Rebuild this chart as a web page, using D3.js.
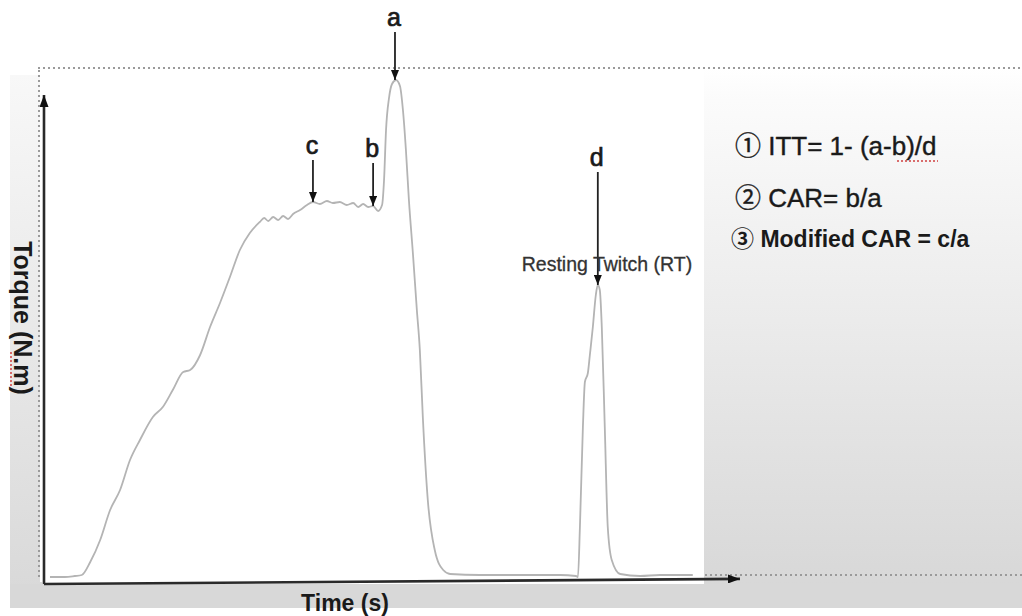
<!DOCTYPE html>
<html>
<head>
<meta charset="utf-8">
<script src="https://cdn.jsdelivr.net/npm/d3@7"></script>
<style>
  html, body { margin: 0; padding: 0; background: #fff; }
  svg { display: block; }
</style>
</head>
<body>
<svg id="chart" width="1022" height="616"></svg>
<script>
// ---- data ----
const time = [0.12,0.42,0.62,0.76,0.93,1.13,1.33,1.53,1.73,1.93,2.19,2.39,2.59,2.80,2.94,3.14,3.34,3.54,3.74,3.94,
  4.14,4.34,4.43,4.51,4.61,4.71,4.81,4.91,5.01,5.15,5.29,5.41,5.55,5.69,5.81,5.95,6.09,6.22,6.32,6.42,
  6.52,6.62,6.72,6.80,6.84,6.88,6.94,7.00,7.08,7.16,7.22,7.28,7.34,7.42,7.50,7.56,7.62,7.72,7.86,8.03,
  8.17,8.77,9.57,10.38,10.70,10.74,10.78,10.84,10.88,10.94,10.98,11.04,11.10,11.14,11.18,11.22,11.28,11.34,11.42,11.59,
  11.99,12.39,13.05];
const torque = [1.4,1.4,1.6,1.8,4.4,8.8,14.8,18.8,24.8,28.8,33.4,35.4,38.8,42.4,42.8,45.8,51.4,56.2,61.4,66.8,
  70.2,72.4,73.2,72.6,73.4,72.8,73.6,73.0,74.0,74.8,75.8,76.4,76.0,76.6,76.2,76.4,75.8,76.2,75.4,76.0,
  75.4,75.6,74.6,75.8,80.8,90.8,97.2,100.0,100.8,99.6,94.8,86.8,76.8,66.2,54.8,46.8,33.4,16.8,6.8,2.8,
  2.0,1.8,1.8,1.8,1.6,1.4,11.4,31.4,40.4,42.2,45.8,51.4,57.8,59.8,58.8,51.4,31.4,11.4,4.8,2.0,
  1.6,1.8,1.8];

const markLabels = ["a", "b", "c", "d"];
const markTime   = [7.06, 6.62, 5.41, 11.14];
const markTorque = [100.8, 75.6, 76.4, 59.8];
const markStart  = [110.4, 84.2, 84.8, 82.4];   // torque level where each arrow starts

const xAxisTitle = "Time (s)";
const yAxisTitle = "Torque (N.m)";
const twitchLabel = "Resting Twitch (RT)";
const formulas = ["\u2460 ITT= 1- (a-b)/d", "\u2461 CAR= b/a", "\u2462 Modified CAR = c/a"];

// ---- drawing ----
const svg = d3.select("#chart");
const W = 1022, H = 616;
const x = d3.scaleLinear().domain([0, 14]).range([44, 740]);
const y = d3.scaleLinear().domain([0, 100]).range([584, 84]);

const defs = svg.append("defs");
const gRight = defs.append("linearGradient").attr("id", "gRight").attr("x1", 0).attr("y1", 0).attr("x2", 0).attr("y2", 1);
gRight.append("stop").attr("offset", "0").attr("stop-color", "#ffffff");
gRight.append("stop").attr("offset", "0.06").attr("stop-color", "#fbfbfb");
gRight.append("stop").attr("offset", "1").attr("stop-color", "#d6d6d6");
const gLeft = defs.append("linearGradient").attr("id", "gLeft").attr("x1", 0).attr("y1", 0).attr("x2", 0).attr("y2", 1);
gLeft.append("stop").attr("offset", "0").attr("stop-color", "#f8f8f8");
gLeft.append("stop").attr("offset", "1").attr("stop-color", "#d8d8d8");

function arrowMarker(id, w, h) {
  defs.append("marker").attr("id", id)
    .attr("viewBox", `0 0 ${h} ${w}`).attr("refX", h).attr("refY", w / 2)
    .attr("markerWidth", h).attr("markerHeight", w).attr("markerUnits", "userSpaceOnUse")
    .attr("orient", "auto")
    .append("path").attr("d", `M0,0L${h},${w / 2}L0,${w}Z`).attr("fill", "#111");
}
arrowMarker("arrAxis", 9, 12);
arrowMarker("arrMark", 8, 10);

// background panels
svg.append("rect").attr("x", 0).attr("y", 0).attr("width", W).attr("height", H).attr("fill", "#fff");
svg.append("rect").attr("x", 10).attr("y", 75).attr("width", 32).attr("height", 533).attr("fill", "url(#gLeft)");
svg.append("rect").attr("x", 704).attr("y", 68).attr("width", W - 704).attr("height", 540).attr("fill", "url(#gRight)");
svg.append("rect").attr("x", 10).attr("y", 584).attr("width", W - 10).attr("height", 24).attr("fill", "#d8d8d8");
svg.append("rect").attr("x", 40).attr("y", 68).attr("width", 664).attr("height", 514).attr("fill", "#fff");

// dotted frame
const dotted = svg.append("g").attr("fill", "none").attr("stroke", "#9a9a9a")
  .attr("stroke-width", 2).attr("stroke-dasharray", "2 3");
dotted.append("line").attr("x1", 38).attr("y1", 68).attr("x2", W).attr("y2", 68);
dotted.append("line").attr("x1", 39).attr("y1", 70).attr("x2", 39).attr("y2", 578);
dotted.append("line").attr("x1", 705).attr("y1", 575).attr("x2", W).attr("y2", 575);

// torque trace
const pts = time.map((t, i) => [t, torque[i]]);
svg.append("path").datum(pts)
  .attr("d", d3.line().x(d => x(d[0])).y(d => y(d[1])).curve(d3.curveMonotoneX))
  .attr("fill", "none").attr("stroke", "#b4b4b4").attr("stroke-width", 1.8)
  .attr("stroke-linejoin", "round");

// axes (domain lines only, with arrowheads)
const xAxisG = svg.append("g").attr("transform", `rotate(-0.42, ${x(0)}, ${y(0)}) translate(0, ${y(0)})`)
  .call(d3.axisBottom(x).ticks(0).tickSizeOuter(0));
xAxisG.select(".domain").attr("stroke", "#2a2a2a").attr("stroke-width", 2.6).attr("marker-end", "url(#arrAxis)")
  .attr("d", `M${x(0)},0H${x(14)}`);
const yAxisScale = y.copy().domain([0, 97.8]).range([y(0), y(97.8)]);
const yAxisG = svg.append("g").attr("transform", `translate(${x(0)}, 0)`)
  .call(d3.axisLeft(yAxisScale).ticks(0).tickSizeOuter(0));
yAxisG.select(".domain").attr("stroke", "#2a2a2a").attr("stroke-width", 2.6).attr("marker-end", "url(#arrAxis)")
  .attr("d", `M0,${yAxisScale(0)}V${yAxisScale(97.8)}`);

// axis titles
svg.append("text").attr("x", 345).attr("y", 611).attr("text-anchor", "middle")
  .attr("font-family", "Liberation Sans, Arial, sans-serif").attr("font-size", 23).attr("font-weight", "bold")
  .attr("fill", "#1a1a1a").text(xAxisTitle);
svg.append("text").attr("transform", "translate(14, 318) rotate(90)").attr("text-anchor", "middle")
  .attr("font-family", "Liberation Sans, Arial, sans-serif").attr("font-size", 25).attr("font-weight", "bold")
  .attr("fill", "#1a1a1a").text(yAxisTitle);
// spell-check squiggle under "N.m"
svg.append("line").attr("x1", 11).attr("y1", 352).attr("x2", 11).attr("y2", 386)
  .attr("stroke", "#d04040").attr("stroke-width", 1.5).attr("stroke-dasharray", "2 2");

// annotation arrows
const marks = markLabels.map((l, i) => ({ l, t: markTime[i], v: markTorque[i], s: markStart[i] }));
const mg = svg.append("g");
mg.selectAll("line").data(marks).enter().append("line")
  .attr("x1", d => x(d.t)).attr("y1", d => y(d.s))
  .attr("x2", d => x(d.t)).attr("y2", d => y(d.v))
  .attr("stroke", "#222").attr("stroke-width", 1.8).attr("marker-end", "url(#arrMark)");
mg.selectAll("text").data(marks).enter().append("text")
  .attr("x", d => x(d.t) - 1).attr("y", d => y(d.s) - 6)
  .attr("text-anchor", "middle")
  .attr("font-family", "Liberation Sans, Arial, sans-serif").attr("font-size", 25)
  .attr("fill", "#1a1a1a").attr("stroke", "#1a1a1a").attr("stroke-width", 0.7).text(d => d.l);

// Resting twitch label (arrow 'd' passes through it)
svg.append("text").attr("x", 607).attr("y", 271).attr("text-anchor", "middle")
  .attr("font-family", "Liberation Sans, Arial, sans-serif").attr("font-size", 19.5)
  .attr("fill", "#333").attr("stroke", "#333").attr("stroke-width", 0.3).text(twitchLabel);

// formulas
const fSizes = [26, 26, 23];
const fWeights = ["normal", "normal", "bold"];
const fBase = [155, 207, 247];
const fX = [735, 735, 731];
svg.append("g").selectAll("text").data(formulas).enter().append("text")
  .attr("x", (d, i) => fX[i]).attr("y", (d, i) => fBase[i])
  .attr("font-family", "Liberation Sans, 'Noto Sans CJK KR', sans-serif")
  .attr("font-size", (d, i) => fSizes[i]).attr("font-weight", (d, i) => fWeights[i])
  .attr("fill", "#1a1a1a").attr("stroke", "#1a1a1a").attr("stroke-width", (d, i) => i < 2 ? 0.4 : 0)
  .text(d => d);
// spell-check squiggle under "b)/d"
svg.append("line").attr("x1", 897).attr("y1", 161).attr("x2", 938).attr("y2", 161)
  .attr("stroke", "#d04040").attr("stroke-width", 1.5).attr("stroke-dasharray", "2 2");
</script>
</body>
</html>
